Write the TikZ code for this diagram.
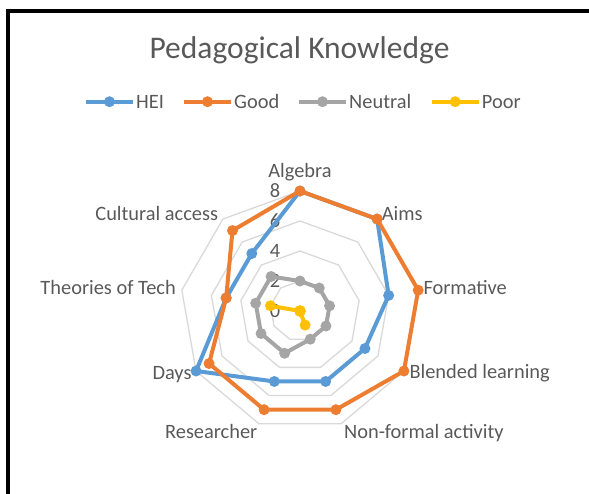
\documentclass[tikz,border=0pt]{standalone}
\usepackage{fontspec}
\setmainfont{Carlito}
\usepackage{tikz}

\definecolor{hei}{HTML}{5B9BD5}
\definecolor{good}{HTML}{ED7D31}
\definecolor{neutral}{HTML}{A5A5A5}
\definecolor{poor}{HTML}{FFC000}
\definecolor{txt}{HTML}{595959}
\definecolor{gridgray}{HTML}{D9D9D9}

\begin{document}
\begin{tikzpicture}[x=1pt,y=1pt,
	series/.style={line width=4pt,line join=round},
	dot/.style={shape=circle,inner sep=0pt,minimum size=11pt},
	lbl/.style={text=txt,inner sep=0pt,font=\fontsize{20.4}{24}\selectfont}]
	
	\useasboundingbox (0,0) rectangle (589,-493);
	\clip (0,0) rectangle (589,-493);
	\draw[line width=3.5pt] (8,-520) -- (8,-10.8) -- (620,-10.8);
	
	\node[lbl,font=\fontsize{31.5}{36}\selectfont,anchor=base] (title) at (299.5,-58.3) {Pedagogical Knowledge};
	
	% legend
	\foreach \s/\x/\t in {hei/86/HEI, good/184/Good, neutral/299/Neutral, poor/431.7/Poor} {
		\coordinate (\s-l) at (\x,-101.7);
		\coordinate (\s-r) at (\x+47,-101.7);
		\draw[series,\s] (\s-l) -- (\s-r);
		\node[dot,fill=\s] (\s-key) at (\x+23.5,-101.7) {};
		\node[lbl,anchor=base west] (\s-name) at (\x+50,-108.3) {\t};
	}
	
	% grid
	\begin{scope}[shift={(300,-311)}]
		\foreach \v in {2,4,6,8}
			\draw[gridgray,line width=1.3pt] (90:{15*\v}) \foreach \k in {1,...,8} { -- ({90-40*\k}:{15*\v}) } -- cycle;
	\end{scope}
	
	\node[lbl,anchor=base]      (algebra)    at (300,-177.3)   {Algebra};
	\node[lbl,anchor=base west] (aims)       at (381.7,-220.7) {Aims};
	\node[lbl,anchor=base west] (formative)  at (423.3,-294.3) {Formative};
	\node[lbl,anchor=base west] (blended)    at (409.3,-378.3) {Blended learning};
	\node[lbl,anchor=base west] (nonformal)  at (344,-438.7)   {Non-formal activity};
	\node[lbl,anchor=base east] (researcher) at (257.5,-438.7) {Researcher};
	\node[lbl,anchor=base east] (days)       at (191.7,-379)   {Days};
	\node[lbl,anchor=base east] (theories)   at (176,-294.3)   {Theories of Tech};
	\node[lbl,anchor=base east] (cultural)   at (218.3,-220.7) {Cultural access};
	
	\foreach \v in {0,2,4,6,8}
		\node[lbl,anchor=base east] (tick\v) at (280.5,{-317.7+15*\v}) {\v};
	
	% series
	\begin{scope}[shift={(300,-311)}]
		\foreach \s/\vals in {hei/{8,8,6,5,5,5,8,5,5}, good/{8,8,8,8,7,7,7,5,7}, neutral/{2,2,2,2,2,3,3,3,3}, poor/{0,0,0,0,1,0,0,2,0}} {
			\foreach \v [count=\k from 0] in \vals
				\coordinate (\s-\k) at ({90-40*\k}:{15*\v});
			\draw[series,\s] (\s-0) \foreach \k in {1,...,8} { -- (\s-\k) } -- cycle;
			\foreach \k in {0,...,8}
				\node[dot,fill=\s] (\s-dot\k) at (\s-\k) {};
		}
	\end{scope}
	
\end{tikzpicture}
\end{document}
